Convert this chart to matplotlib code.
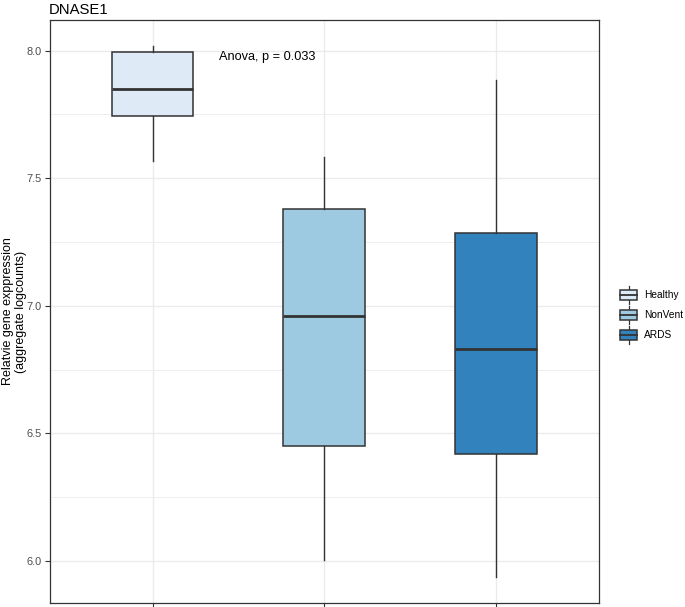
import matplotlib
matplotlib.use("Agg")
import matplotlib.pyplot as plt
from matplotlib.patches import Rectangle
from matplotlib.lines import Line2D
from matplotlib.legend_handler import HandlerBase

plt.rcParams['font.family'] = ['Liberation Sans', 'DejaVu Sans']

# values
groups = ['Healthy', 'NonVent', 'ARDS']
whis_lo = [7.569, 6.002, 5.936]
q1 = [7.745, 6.452, 6.418]
med = [7.848, 6.958, 6.831]
q3 = [7.995, 7.379, 7.286]
whis_hi = [8.017, 7.582, 7.886]
fills = ['#DEEBF7', '#9ECAE1', '#3182BD']
anova_label = 'Anova, p = 0.033'

edge = '#333333'
W, H = 685, 607
fig = plt.figure(figsize=(W / 100, H / 100), dpi=100)
ax = fig.add_axes([49.5 / W, 4 / H, (599 - 49.5) / W, (603 - 20) / H])

stats = []
for i, g in enumerate(groups):
    stats.append(dict(label=g, whislo=whis_lo[i], q1=q1[i], med=med[i],
                      q3=q3[i], whishi=whis_hi[i], fliers=[]))

bp = ax.bxp(stats, positions=[1, 2, 3], widths=0.475, patch_artist=True,
            showcaps=False, zorder=3,
            boxprops=dict(edgecolor=edge, linewidth=1.1),
            whiskerprops=dict(color=edge, linewidth=1.0),
            medianprops=dict(color=edge, linewidth=2.0))
for patch, c in zip(bp['boxes'], fills):
    patch.set_facecolor(c)

ax.set_xlim(0.4, 3.6)
ax.set_ylim(5.835, 8.12)
ax.set_yticks([6.0, 6.5, 7.0, 7.5, 8.0])
ax.set_yticks([6.25, 6.75, 7.25, 7.75], minor=True)
ax.set_xticks([1, 2, 3])
ax.set_xticklabels(['', '', ''])
ax.grid(True, which='major', color='#EBEBEB', linewidth=1.0, zorder=0)
ax.grid(True, which='minor', axis='y', color='#EBEBEB', linewidth=0.6, zorder=0)
ax.tick_params(axis='both', which='major', length=3.5, width=0.8, color=edge,
               labelsize=7.9, labelcolor='#4D4D4D', pad=2)
ax.tick_params(axis='y', which='minor', length=0)
for s in ax.spines.values():
    s.set_color(edge)
    s.set_linewidth(0.9)

ax.set_ylabel('Relatvie gene exppression\n(aggregate logcounts)', fontsize=9,
              linespacing=1.1)
ax.yaxis.set_label_coords((27 - 49.5) / 549.5, 0.5)
ax.set_title('DNASE1', loc='left', fontsize=10.7, pad=4, x=-0.002)
ax.text(1.387, 7.976, anova_label, fontsize=9.2, va='center', ha='left')


class BoxKey(HandlerBase):
    # little boxplot glyph like ggplot's legend key
    def create_artists(self, legend, orig, xd, yd, width, height, fontsize, trans):
        x0, x1 = -xd, width - xd
        yc = height / 2 - yd
        half = 0.85 * fontsize
        lo, hi = yc - half * 0.6, yc + half * 0.6
        r = Rectangle((x0, lo), x1 - x0, hi - lo,
                      facecolor=orig.get_facecolor(), edgecolor=edge,
                      linewidth=1.1, transform=trans)
        m = Line2D([x0, x1], [yc, yc], color=edge, linewidth=1.3, transform=trans)
        xm = (x0 + x1) / 2
        w1 = Line2D([xm, xm], [yc - half, lo], color=edge, linewidth=0.9,
                    transform=trans)
        w2 = Line2D([xm, xm], [hi, yc + half], color=edge, linewidth=0.9,
                    transform=trans)
        return [w1, w2, r, m]


handles = [Rectangle((0, 0), 1, 1, facecolor=c) for c in fills]
leg = fig.legend(handles, groups, loc='center left',
                 bbox_to_anchor=(620 / W, 1 - 315 / H), frameon=False,
                 handler_map={Rectangle: BoxKey()}, fontsize=7.3,
                 handlelength=1.7, handleheight=2.57, handletextpad=0.7,
                 labelspacing=0.05, borderpad=0, borderaxespad=0)

fig.savefig('out.png', dpi=100)
